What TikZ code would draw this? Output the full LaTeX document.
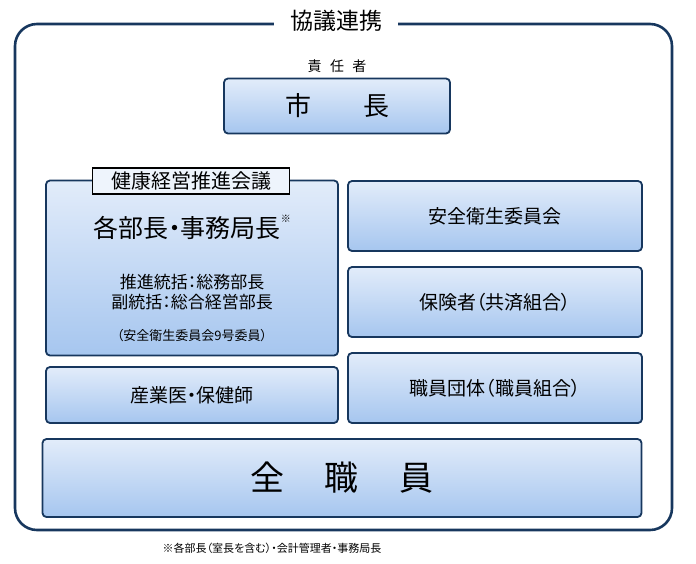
\documentclass[tikz,border=0pt]{standalone}
\usepackage{fontspec}
\setmainfont[RawFeature=+palt]{Noto Sans CJK JP}
\usetikzlibrary{positioning}
\definecolor{navy}{HTML}{17375E}
\definecolor{boxtop}{HTML}{E2ECFA}
\definecolor{boxbot}{HTML}{A6C6EF}
\begin{document}
\begin{tikzpicture}[
	x = 1pt, y = -1pt, % pixel grid
	box/.style={draw=navy, line width=1.8pt, rounded corners=4pt, top color=boxtop, bottom color=boxbot, align=center, inner sep=0pt},
	tag/.style={draw=black, line width=1.6pt, fill=boxtop!60!white, font=\fontsize{20}{22}\selectfont, inner sep=0pt, minimum height=26pt},
	]
	\useasboundingbox (0,0) rectangle (696,563);

	% Outer frame
	\draw[navy, line width=2.6pt, rounded corners=22pt] (15,24) rectangle (672,530);
	\node[fill=white, font=\fontsize{23}{25}\selectfont, minimum width=124pt] (T) at (336,21) {協議連携};

	% Mayor
	\node[box, minimum width=226pt, minimum height=55pt, font=\fontsize{26}{28}\selectfont] (M) at (337,106) {市\hspace{2em}長};
	\node[font=\fontsize{14}{16}\selectfont] (R) [above = 1pt of M] {責\hspace{0.6em}任\hspace{0.6em}者};

	% Left column
	\node[box, minimum width=292pt, minimum height=175pt] (H) at (192,268) {};
	\node[tag, minimum width=197pt] (K) at (191,181) {健康経営推進会議};
	\node[font=\fontsize{25}{27}\selectfont] (B) at (192,227) {各部長・事務局長\raisebox{0.6em}{\fontsize{10}{10}\selectfont ※}};
	\node[font=\fontsize{17}{20}\selectfont, align=center] (S) at (192,292) {推進統括：総務部長\\副統括：総合経営部長};
	\node[font=\fontsize{13}{15}\selectfont] (N) at (192,336) {（安全衛生委員会9号委員）};
	\node[box, minimum width=292pt, minimum height=56pt, font=\fontsize{19}{21}\selectfont] (D) at (192,395) {産業医・保健師};

	% Right column
	\node[box, minimum width=294pt, minimum height=70pt, font=\fontsize{19}{21}\selectfont] (A) at (495,216) {安全衛生委員会};
	\node[box, minimum width=294pt, minimum height=70pt, font=\fontsize{19}{21}\selectfont] (I) at (495,302) {保険者（共済組合）};
	\node[box, minimum width=294pt, minimum height=70pt, font=\fontsize{19}{21}\selectfont] (U) at (495,388) {職員団体（職員組合）};

	% All staff
	\node[box, minimum width=599pt, minimum height=78pt, font=\fontsize{34}{36}\selectfont] (Z) at (342,478) {全\hspace{1.2em}職\hspace{1.2em}員};

	% Footnote
	\node[font=\fontsize{11}{13}\selectfont] (F) at (272,548) {※各部長（室長を含む）・会計管理者・事務局長};
\end{tikzpicture}
\end{document}
